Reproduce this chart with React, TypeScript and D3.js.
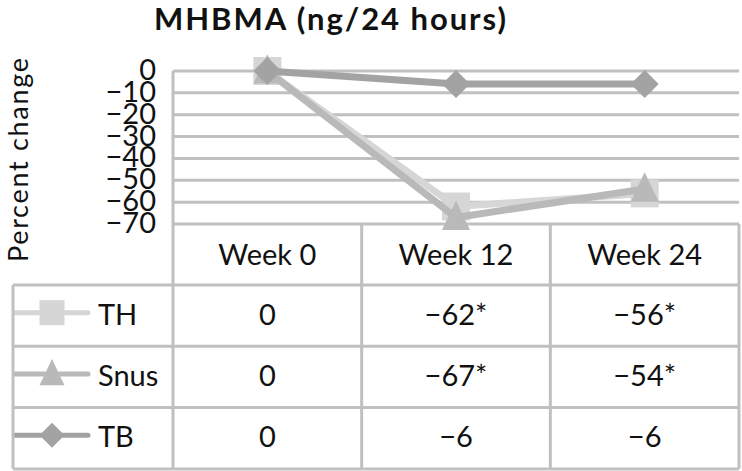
import React from "react";
import * as d3 from "d3";

const categories = ["Week 0", "Week 12", "Week 24"];
const seriesNames = ["TH", "Snus", "TB"];
const thValues = [0, -62, -56];
const snusValues = [0, -67, -54];
const tbValues = [0, -6, -6];
const thLabels = ["0", "\u221262*", "\u221256*"];
const snusLabels = ["0", "\u221267*", "\u221254*"];
const tbLabels = ["0", "\u22126", "\u22126"];
const yTicks = [0, -10, -20, -30, -40, -50, -60, -70];
const title = "MHBMA (ng/24 hours)";
const yTitle = "Percent change";

const W = 742, H = 471;
const FONT = "Lato, 'Open Sans', sans-serif";
const colors = ["#d6d6d6", "#b9b9b9", "#a3a3a3"];
const gridColor = "#c0c0c0";
const FS = 29;

export default function App() {
  const left = 173, right = 739, top = 71, bottom = 224;
  const x = d3.scaleBand<string>().domain(categories).range([left, right]);
  const y = d3.scaleLinear().domain([-70, 0]).range([bottom, top]);
  const series = [thValues, snusValues, tbValues];
  const labels = [thLabels, snusLabels, tbLabels];
  const line = d3.line<number>().x((_, i) => (x(categories[i]) as number) + x.bandwidth() / 2).y((d) => y(d));

  const rowTop = bottom;
  const headerH = 61;
  const rowH = 61.3;
  const tableLeft = 13;
  const tableBottom = rowTop + headerH + rowH * 3;

  const marker = (k: number, cx: number, cy: number, s: number, key: string) => {
    const c = colors[k];
    if (k === 0) return <rect key={key} x={cx - s / 2} y={cy - s / 2} width={s} height={s} fill={c} />;
    if (k === 1) {
      const h = s;
      return <path key={key} d={`M${cx},${cy - h * 0.6}L${cx + s / 2},${cy + h * 0.45}L${cx - s / 2},${cy + h * 0.45}Z`} fill={c} />;
    }
    const r = s / 2;
    return <path key={key} d={`M${cx},${cy - r}L${cx + r},${cy}L${cx},${cy + r}L${cx - r},${cy}Z`} fill={c} />;
  };

  return (
    <svg width={W} height={H} style={{ position: "absolute", left: 0, top: 0, background: "#fff" }}>
      <rect x={0} y={0} width={W} height={H} fill="#fff" />
      <text x={330} y={30} textAnchor="middle" fontFamily={FONT} fontWeight="bold" fontSize={31} textLength={352} lengthAdjust="spacing" fill="#111">{title}</text>
      <text transform={`translate(28,160) rotate(-90)`} textAnchor="middle" fontFamily={FONT} fontSize={27} textLength={204} lengthAdjust="spacing" fill="#111">{yTitle}</text>
      {yTicks.map((t) => (
        <g key={t}>
          <line x1={left} x2={right} y1={y(t)} y2={y(t)} stroke={gridColor} strokeWidth={3} />
          <text x={156} y={y(t) + 9} textAnchor="end" fontFamily={FONT} fontSize={FS} fill="#111">{t === 0 ? "0" : "\u2212" + Math.abs(t)}</text>
        </g>
      ))}
      <line x1={left} x2={left} y1={top} y2={tableBottom} stroke={gridColor} strokeWidth={3} />
      {categories.map((c) => {
        const x0 = x(c) as number;
        return (
          <g key={c}>
            <line x1={x0 + x.bandwidth()} x2={x0 + x.bandwidth()} y1={rowTop} y2={tableBottom} stroke={gridColor} strokeWidth={3} />
            <text x={x0 + x.bandwidth() / 2} y={rowTop + headerH / 2 + 10} textAnchor="middle" fontFamily={FONT} fontSize={FS} fill="#111">{c}</text>
          </g>
        );
      })}
      {seriesNames.map((n, k) => {
        const ry = rowTop + headerH + rowH * k;
        const cy = ry + rowH / 2;
        return (
          <g key={n}>
            <line x1={tableLeft} x2={right} y1={ry} y2={ry} stroke={gridColor} strokeWidth={3} />
            <line x1={tableLeft + 2} x2={88} y1={cy - 3} y2={cy - 3} stroke={colors[k]} strokeWidth={5} strokeLinecap="round" />
            {marker(k, 52, cy - 3, 25, "lm" + k)}
            <text x={98} y={cy + 9} fontFamily={FONT} fontSize={FS} fill="#111">{n}</text>
            {labels[k].map((l, i) => (
              <text key={i} x={(x(categories[i]) as number) + x.bandwidth() / 2} y={cy + 9} textAnchor="middle" fontFamily={FONT} fontSize={FS} fill="#111">{l}</text>
            ))}
          </g>
        );
      })}
      <line x1={tableLeft} x2={right} y1={tableBottom} y2={tableBottom} stroke={gridColor} strokeWidth={3} />
      <line x1={tableLeft} x2={tableLeft} y1={rowTop + headerH} y2={tableBottom} stroke={gridColor} strokeWidth={3} />
      {series.map((vals, k) => (
        <g key={k}>
          <path d={line(vals) as string} fill="none" stroke={colors[k]} strokeWidth={7} />
          {vals.map((v, i) => marker(k, (x(categories[i]) as number) + x.bandwidth() / 2, y(v), 28, `m${k}-${i}`))}
        </g>
      ))}
    </svg>
  );
}
